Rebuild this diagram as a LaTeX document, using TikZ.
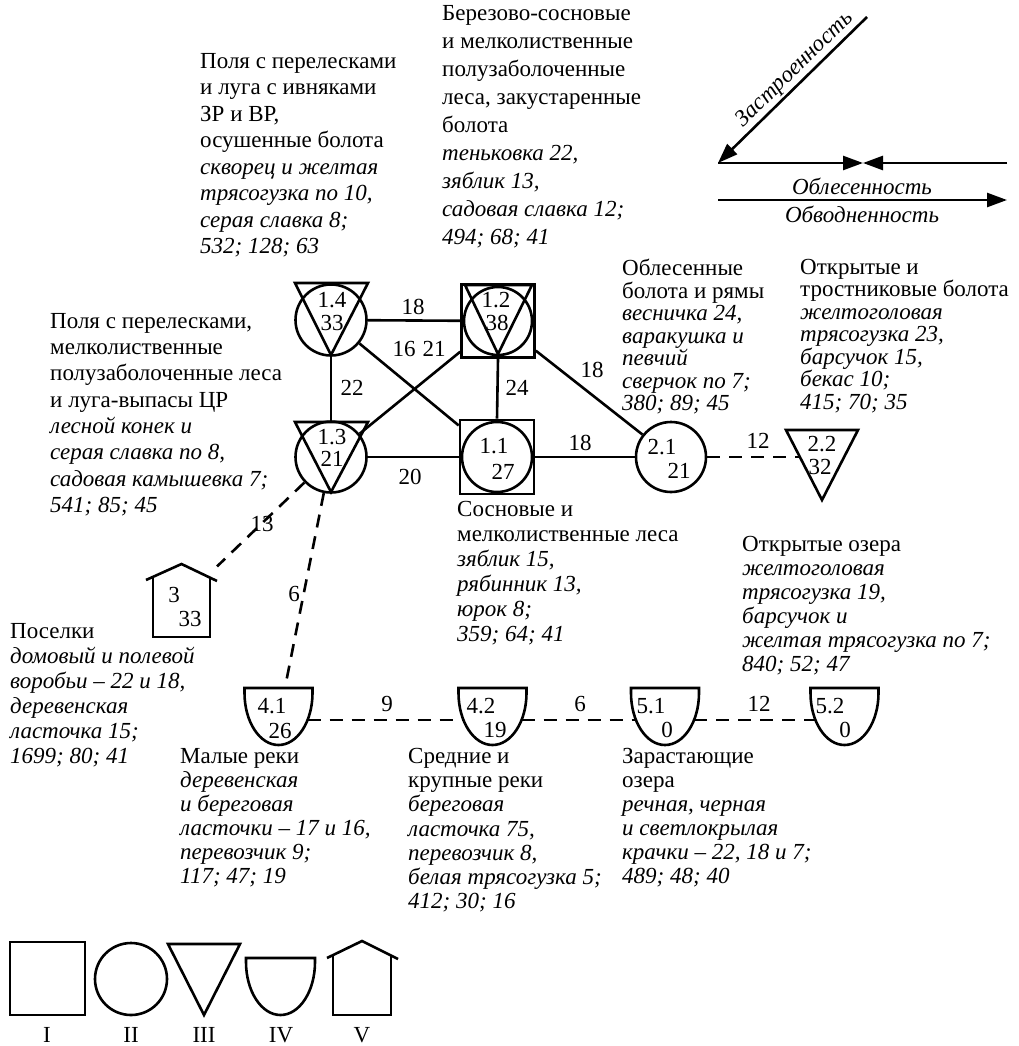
\documentclass[tikz,border=0pt]{standalone}
\usepackage{fontspec}
\setmainfont{Liberation Serif}
\usetikzlibrary{arrows.meta,calc}
\tikzset{
  shp/.style={draw, line width=2.6pt, line join=miter},
  ghost/.style={inner sep=0pt, outer sep=0pt, draw=none},
  ed/.style={line width=2.6pt},
  dsh/.style={line width=2.6pt, dash pattern=on 13pt off 9pt},
  num/.style={font=\fontsize{23}{24}\selectfont, inner sep=0pt},
  txt/.style={font=\fontsize{23}{#1}\selectfont, align=left, anchor=north west, inner sep=0pt},
  txt/.default=24.5,
  axl/.style={line width=2.6pt, -{Triangle[length=20pt,width=14pt]}},
}
\begin{document}
\begin{tikzpicture}[x=1pt,y=-1pt]
\useasboundingbox (0,0) rectangle (1019,1046);

% ---------- main nodes ----------
\node[circle, shp, minimum size=71pt, inner sep=0pt] (n14) at (331,320) {};
\draw[shp] ($(n14)+(-36,-37)$) -- ($(n14)+(37,-37)$) -- ($(n14)+(0,35)$) -- cycle;
\node[num] (t14a) at (332,300) {1.4};
\node[num] (t14b) at (332,323) {33};

\node[rectangle, shp, minimum size=73pt, inner sep=0pt] (n12) at (498,321) {};
\draw[shp] (n12) circle[radius=34];
\draw[shp] ($(n12)+(-33,-36)$) -- ($(n12)+(34,-36)$) -- ($(n12)+(0,33)$) -- cycle;
\node[num] (t12a) at (496,300) {1.2};
\node[num] (t12b) at (497,323) {38};

\node[circle, shp, minimum size=71pt, inner sep=0pt] (n13) at (331,457) {};
\draw[shp] ($(n13)+(-36,-35)$) -- ($(n13)+(37,-35)$) -- ($(n13)+(0,35)$) -- cycle;
\node[num] (t13a) at (332,437) {1.3};
\node[num] (t13b) at (332,459) {21};

\node[rectangle, shp, minimum size=74pt, inner sep=0pt] (n11) at (497,457) {};
\draw[shp] (n11) circle[radius=35];
\node[num] (t11a) at (494,446) {1.1};
\node[num] (t11b) at (503,472) {27};

\node[circle, shp, minimum size=70pt, inner sep=0pt] (n21) at (671,457) {};
\node[num] (t21a) at (662,447) {2.1};
\node[num] (t21b) at (679,471) {21};

\node[ghost, minimum width=44pt, minimum height=60pt] (n22) at (822,457) {};
\draw[shp] ($(n22)+(-36,-27)$) -- ($(n22)+(36,-27)$) -- ($(n22)+(0,43)$) -- cycle;
\node[num] (t22a) at (822,444) {2.2};
\node[num] (t22b) at (820,467) {32};

\node[ghost, minimum width=71pt, minimum height=73pt] (n3) at (181.5,600.5) {};
\draw[shp] ($(n3)+(-35.5,-20.5)$) -- ($(n3)+(0,-36.5)$) -- ($(n3)+(35.5,-19.5)$);
\draw[shp] ($(n3)+(-28.5,-23.7)$) -- ($(n3)+(-28.5,36.5)$) -- ($(n3)+(28.5,36.5)$) -- ($(n3)+(28.5,-23.7)$);
\node[num] (t3a) at (174,595) {3};
\node[num] (t3b) at (190,619) {33};

\foreach \nm/\cx in {n41/278.5, n42/492.5, n51/665, n52/844.5}{
  \node[ghost, minimum width=58pt, minimum height=64pt] (\nm) at (\cx,720) {};
  \draw[shp] ($(\nm)+(-34,-32)$) -- ($(\nm)+(34,-32)$) -- ($(\nm)+(34,-27)$)
     arc[start angle=0, end angle=180, x radius=34, y radius=52] -- cycle;
}
\node[num] (t41a) at (272,706) {4.1};
\node[num] (t41b) at (280,731) {26};
\node[num] (t42a) at (481,706) {4.2};
\node[num] (t42b) at (495,730) {19};
\node[num] (t51a) at (651,706) {5.1};
\node[num] (t51b) at (667,730) {0};
\node[num] (t52a) at (830,706) {5.2};
\node[num] (t52b) at (845,730) {0};

% ---------- connectors ----------
\draw[ed] (n14) -- (n12);
\draw[ed] (n14) -- (n11);
\draw[ed] (n13) -- (n12);
\draw[ed] (n14) -- (n13);
\draw[ed] (n12.south) -- (n11.north);
\draw[ed] (n13) -- (n11);
\draw[ed] (n12) -- (n21);
\draw[ed] (n11) -- (n21);
\draw[dsh] (n21) -- (n22);
\draw[dsh] (n13) -- (n3);
\draw[dsh] (n13) -- (n41);
\draw[dsh] (n41) -- (n42);
\draw[dsh] (n42) -- (n51);
\draw[dsh] (n51) -- (n52);

\node[num] (e1) at (413,307) {18};
\node[num] (e2) at (404,349) {16};
\node[num] (e3) at (434,349) {21};
\node[num] (e4) at (352,388) {22};
\node[num] (e5) at (517,388) {24};
\node[num] (e6) at (410,477) {20};
\node[num] (e7) at (592,370) {18};
\node[num] (e8) at (580,443) {18};
\node[num] (e9) at (758,441) {12};
\node[num] (e10) at (262,524) {13};
\node[num] (e11) at (294,594) {6};
\node[num] (e12) at (387,704) {9};
\node[num] (e13) at (580,704) {6};
\node[num] (e14) at (759,704) {12};

% ---------- text blocks ----------
\node[txt=26.5] (ta) at (200,53) {Поля с перелесками\\и луга с ивняками\\ЗР и ВР,\\осушенные болота\\\textit{скворец и желтая}\\\textit{трясогузка по 10,}\\\textit{серая славка 8;}\\\textit{532; 128; 63}};
\node[txt=28] (tb) at (442,5) {Березово-сосновые\\и мелколиственные\\полузаболоченные\\леса, закустаренные\\болота\\\textit{теньковка 22,}\\\textit{зяблик 13,}\\\textit{садовая славка 12;}\\\textit{494; 68; 41}};
\node[txt=22.5] (tc) at (622,259) {Облесенные\\болота и рямы\\\textit{весничка 24,}\\\textit{варакушка и}\\\textit{певчий}\\\textit{сверчок по 7;}\\\textit{380; 89; 45}};
\node[txt=22.5] (td) at (800,259) {Открытые и\\тростниковые болота\\\textit{желтоголовая}\\\textit{трясогузка 23,}\\\textit{барсучок 15,}\\\textit{бекас 10;}\\\textit{415; 70; 35}};
\node[txt=26.3] (te) at (50,313) {Поля с перелесками,\\мелколиственные\\полузаболоченные леса\\и луга-выпасы ЦР\\\textit{лесной конек и}\\\textit{серая славка по 8,}\\\textit{садовая камышевка 7;}\\\textit{541; 85; 45}};
\node[txt=25] (tf) at (457,501) {Сосновые и\\мелколиственные леса\\\textit{зяблик 15,}\\\textit{рябинник 13,}\\\textit{юрок 8;}\\\textit{359; 64; 41}};
\node[txt=24] (tg) at (742,536) {Открытые озера\\\textit{желтоголовая}\\\textit{трясогузка 19,}\\\textit{барсучок и}\\\textit{желтая трясогузка по 7;}\\\textit{840; 52; 47}};
\node[txt=25] (th) at (10,623) {Поселки\\\textit{домовый и полевой}\\\textit{воробьи – 22 и 18,}\\\textit{деревенская}\\\textit{ласточка 15;}\\\textit{1699; 80; 41}};
\node[txt=24] (ti) at (180,748) {Малые реки\\\textit{деревенская}\\\textit{и береговая}\\\textit{ласточки – 17 и 16,}\\\textit{перевозчик 9;}\\\textit{117; 47; 19}};
\node[txt=24.2] (tj) at (408,748) {Средние и\\крупные реки\\\textit{береговая}\\\textit{ласточка 75,}\\\textit{перевозчик 8,}\\\textit{белая трясогузка 5;}\\\textit{412; 30; 16}};
\node[txt=24] (tk) at (622,748) {Зарастающие\\озера\\\textit{речная, черная}\\\textit{и светлокрылая}\\\textit{крачки – 22, 18 и 7;}\\\textit{489; 48; 40}};

% ---------- axes (top right) ----------
\coordinate (zA) at (867,17);
\coordinate (zO) at (718,163);
\coordinate (zM) at (863,163);
\coordinate (zR) at (1007,163);
\coordinate (wL) at (718,200);
\coordinate (wR) at (1007,200);
\draw[axl] (zA) -- (zO);
\draw[axl] (zO) -- (zM);
\draw[axl] (zR) -- (zM);
\draw[axl] (wL) -- (wR);
\node[num, rotate=44.4] (lz) at (795,70) {\textit{Застроенность}};
\node[num] (ll) at (862,186) {\textit{Облесенность}};
\node[num] (lw) at (862,214) {\textit{Обводненность}};

% ---------- legend ----------
\draw[shp] (10,942) rectangle (85,1015);
\draw[shp] (131,979) circle[radius=36];
\draw[shp] (168,944) -- (240,944) -- (204,1015) -- cycle;
\draw[shp] (246,958) -- (315,958) -- (315,962) arc[start angle=0, end angle=180, x radius=34.5, y radius=53] -- cycle;
\draw[shp] (327,958) -- (362,941) -- (398,959);
\draw[shp] (333,955) -- (333,1015) -- (391,1015) -- (391,955);
\node[num] (r1) at (47,1035) {I};
\node[num] (r2) at (131,1035) {II};
\node[num] (r3) at (204,1035) {III};
\node[num] (r4) at (281,1035) {IV};
\node[num] (r5) at (362,1035) {V};
\end{tikzpicture}
\end{document}
